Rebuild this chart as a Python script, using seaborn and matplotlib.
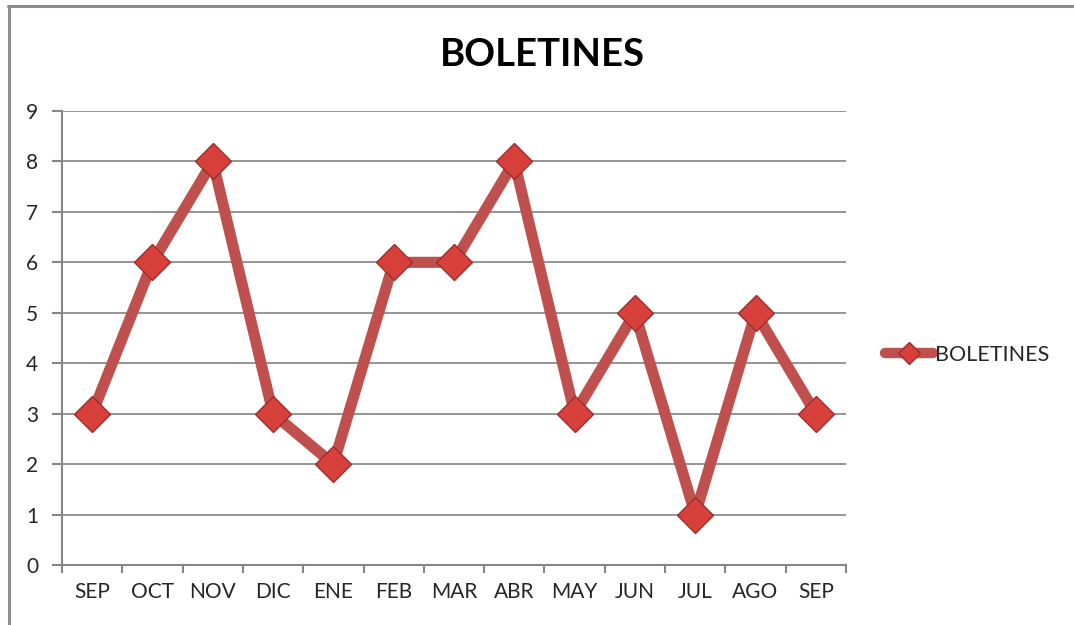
import matplotlib
matplotlib.use("Agg")
import matplotlib.pyplot as plt
import seaborn as sns
import pandas as pd
from matplotlib.lines import Line2D

months = ["SEP", "OCT", "NOV", "DIC", "ENE", "FEB", "MAR", "ABR", "MAY", "JUN", "JUL", "AGO", "SEP"]
values = [3, 6, 8, 3, 2, 6, 6, 8, 3, 5, 1, 5, 3]
series_name = "BOLETINES"
yticks = list(range(0, 10))

sns.set_theme(style="white")
plt.rcParams['font.family'] = ['Lato', 'DejaVu Sans']

df = pd.DataFrame({"pos": range(len(months)), "val": values, "serie": series_name})

W, H = 1074, 625
fig = plt.figure(figsize=(W / 100, H / 100), dpi=100)
ax = fig.add_axes([62 / W, 1 - 565 / H, (846 - 62) / W, (565 - 111) / H])

color = "#C0504D"
sns.lineplot(data=df, x="pos", y="val", hue="serie", palette=[color], ax=ax,
             linewidth=8, marker="D", markersize=18, markeredgecolor="#9B2E2B",
             markeredgewidth=1.0, markerfacecolor="#D8403C", legend=False,
             solid_joinstyle="round", solid_capstyle="round")

ax.set_xlim(-0.5, len(months) - 0.5)
ax.set_ylim(0, 9)
ax.set_yticks(yticks)
ax.set_yticklabels([str(t) for t in yticks], fontsize=15)
ax.set_xticks(range(len(months)))
ax.set_xticklabels(months, fontsize=15)
ax.set_xticks([i - 0.5 for i in range(len(months) + 1)], minor=True)
ax.tick_params(axis="x", which="major", length=0, pad=12, bottom=True)
ax.tick_params(axis="x", which="minor", length=6, color="#868686", width=1.5,
               direction="out", bottom=True)
ax.tick_params(axis="y", length=7, color="#868686", width=1.5, pad=10,
               direction="out", left=True)
ax.set_xlabel("")
ax.set_ylabel("")
ax.grid(axis="y", color="#8C8C8C", linewidth=1.3)
ax.set_axisbelow(True)
for s in ["top", "right"]:
    ax.spines[s].set_visible(False)
for s in ["left", "bottom"]:
    ax.spines[s].set_color("#868686")
    ax.spines[s].set_linewidth(1.5)

fig.text(542 / W, 1 - 55 / H, "BOLETINES", ha="center", va="center",
         fontsize=27.5, fontweight="bold", color="black")

handle = Line2D([0], [0], color=color, linewidth=7.5, marker="D", markersize=11,
                markerfacecolor="#D8403C", markeredgecolor="#9B2E2B", solid_capstyle="round")
fig.legend([handle], [series_name], loc="center left",
           bbox_to_anchor=(876 / W, 1 - 355 / H), frameon=False, fontsize=15.5,
           handlelength=2.25, handletextpad=0.1, borderaxespad=0)

# chart frame (top and left edges)
fig.add_artist(Line2D([8.5 / W, 8.5 / W], [0, 1 - 6 / H], color="#8C8C8C", linewidth=2.2,
                      transform=fig.transFigure))
fig.add_artist(Line2D([8 / W, 1073 / W], [1 - 6 / H, 1 - 6 / H], color="#8C8C8C", linewidth=2.2,
                      transform=fig.transFigure))

fig.savefig("out.png", dpi=100, facecolor="white")
